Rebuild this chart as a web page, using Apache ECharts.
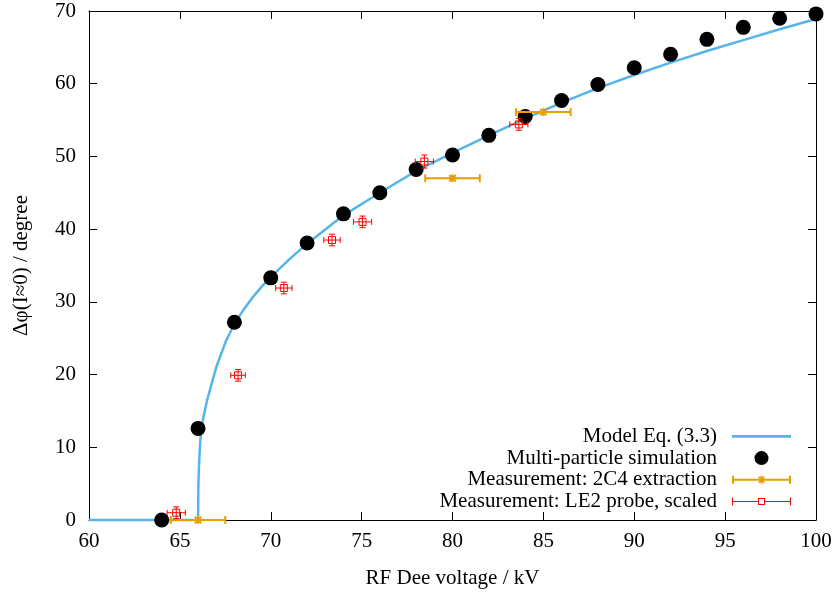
<!DOCTYPE html>
<html><head><meta charset="utf-8">
<script src="https://cdn.jsdelivr.net/npm/echarts@6/dist/echarts.min.js"></script>
<style>html,body{margin:0;padding:0;background:#fff}#c{width:837px;height:594px}</style>
</head><body><div id="c"></div>
<script>
// ---- data ----
const xTicks = [60, 65, 70, 75, 80, 85, 90, 95, 100];
const yTicks = [0, 10, 20, 30, 40, 50, 60, 70];

const modelX = [60, 66, 66.02, 66.06, 66.12, 66.2, 66.5, 67, 67.5, 68, 68.5, 69, 69.5, 70, 71, 72, 74, 76, 78, 80, 82, 84, 86, 88, 90, 92, 94, 96, 98, 100];
const modelY = [0, 0, 5, 8, 10.8, 13, 16.5, 21.0, 24.4, 27.0, 28.9, 30.6, 32.1, 33.4, 35.8, 38.0, 41.9, 45.0, 48.0, 50.5, 52.9, 55.2, 57.4, 59.4, 61.2, 62.9, 64.5, 66.0, 67.5, 68.9];

const simX = [64, 66, 68, 70, 72, 74, 76, 78, 80, 82, 84, 86, 88, 90, 92, 94, 96, 98, 100];
const simY = [0, 12.6, 27.2, 33.3, 38.1, 42.1, 45.0, 48.2, 50.2, 52.9, 55.5, 57.7, 59.9, 62.2, 64.05, 66.1, 67.75, 69.0, 69.6];

const extX = [66, 80, 85];
const extY = [0, 47.0, 56.1];
const extXErr = [1.5, 1.5, 1.5];

const probeX = [64.8, 68.2, 70.72, 73.37, 75.05, 78.45, 83.65];
const probeY = [1.0, 19.9, 31.9, 38.5, 41.0, 49.3, 54.4];
const probeXErr = [0.5, 0.4, 0.45, 0.45, 0.5, 0.5, 0.5];
const probeYErr = [0.8, 0.8, 0.8, 0.8, 0.8, 0.9, 0.8];

const names = ['Model Eq. (3.3)', 'Multi-particle simulation', 'Measurement: 2C4 extraction', 'Measurement: LE2 probe, scaled'];
const colors = {model: '#56b4e9', sim: '#000000', ext: '#e69f00', probe: '#ff0000'};

// ---- build ----
const FONT = '"Liberation Serif", "DejaVu Serif", serif';
const FS = 21;
const zip2 = (a, b) => a.map((v, i) => [v, b[i]]);

function rectPath(x, y, w, h) { return 'M' + x + ' ' + y + 'h' + w + 'v' + h + 'h' + (-w) + 'Z'; }
// legend icons in a 59 x 10 box
const modelIcon = 'path://' + rectPath(0, 0, 59, 2.6);
const extIcon = 'path://' + [
  rectPath(0, 4, 59, 2), rectPath(0, 1, 2, 8), rectPath(57, 1, 2, 8),
  rectPath(25.5, 4, 8, 2), rectPath(28.5, 1, 2, 8),
  'M26 2.5L27 1.5L33 7.5L32 8.5Z', 'M27 8.5L26 7.5L32 1.5L33 2.5Z'
].join(' ');
const probeIcon = 'path://' + [
  rectPath(0, 4.5, 26, 1), rectPath(33, 4.5, 26, 1), rectPath(0, 1, 1, 8), rectPath(58, 1, 1, 8),
  rectPath(26, 1.5, 7, 1), rectPath(26, 7.5, 7, 1), rectPath(26, 1.5, 1, 7), rectPath(32, 1.5, 1, 7),
  rectPath(29, 0, 0.01, 10)
].join(' ');

function line(x1, y1, x2, y2, style) {
  return {type: 'line', shape: {x1: x1, y1: y1, x2: x2, y2: y2}, style: style, silent: true};
}

function extRender(params, api) {
  const x = api.value(0), y = api.value(1), xe = api.value(2);
  const c = api.coord([x, y]), l = api.coord([x - xe, y]), r = api.coord([x + xe, y]);
  const st = {stroke: colors.ext, lineWidth: 2, fill: null};
  const cap = 4, m = 4;
  return {type: 'group', children: [
    line(l[0], c[1], r[0], c[1], st),
    line(l[0], c[1] - cap, l[0], c[1] + cap, st),
    line(r[0], c[1] - cap, r[0], c[1] + cap, st),
    line(c[0] - m, c[1], c[0] + m, c[1], st),
    line(c[0], c[1] - m, c[0], c[1] + m, st),
    line(c[0] - m * 0.8, c[1] - m * 0.8, c[0] + m * 0.8, c[1] + m * 0.8, st),
    line(c[0] - m * 0.8, c[1] + m * 0.8, c[0] + m * 0.8, c[1] - m * 0.8, st)
  ]};
}

function probeRender(params, api) {
  const x = api.value(0), y = api.value(1), xe = api.value(2), ye = api.value(3);
  const c = api.coord([x, y]), l = api.coord([x - xe, y]), r = api.coord([x + xe, y]);
  const t = api.coord([x, y + ye]), b = api.coord([x, y - ye]);
  const st = {stroke: colors.probe, lineWidth: 1, fill: null};
  const cap = 3, s = 3.5;
  return {type: 'group', children: [
    line(l[0], c[1], r[0], c[1], st),
    line(l[0], c[1] - cap, l[0], c[1] + cap, st),
    line(r[0], c[1] - cap, r[0], c[1] + cap, st),
    line(c[0], t[1], c[0], b[1], st),
    line(c[0] - cap, t[1], c[0] + cap, t[1], st),
    line(c[0] - cap, b[1], c[0] + cap, b[1], st),
    {type: 'rect', shape: {x: c[0] - s, y: c[1] - s, width: 2 * s, height: 2 * s}, style: st, silent: true}
  ]};
}

const axisCommon = {
  type: 'value', min: 60, max: 100, interval: 5,
  axisLine: {show: true, onZero: false, lineStyle: {color: '#000', width: 1}},
  axisTick: {show: true, inside: true, length: 8, lineStyle: {color: '#000'}},
  splitLine: {show: false}
};

const chart = echarts.init(document.getElementById('c'), null, {renderer: 'canvas'});
chart.setOption({
  animation: false,
  backgroundColor: '#fff',
  textStyle: {fontFamily: FONT},
  grid: {left: 89, right: 21, top: 11, bottom: 73, containLabel: false},
  xAxis: [
    Object.assign({}, axisCommon, {
      position: 'bottom',
      axisLabel: {show: true, color: '#000', fontSize: FS, fontFamily: FONT, margin: 11,
        formatter: v => xTicks.includes(v) ? String(v) : ''},
      name: 'RF Dee voltage / kV', nameLocation: 'middle', nameGap: 48,
      nameTextStyle: {color: '#000', fontSize: FS, fontFamily: FONT}
    }),
    Object.assign({}, axisCommon, {position: 'top', axisLabel: {show: false}})
  ],
  yAxis: [
    Object.assign({}, axisCommon, {
      min: 0, max: 70, interval: 10, position: 'left',
      axisLabel: {show: true, color: '#000', fontSize: FS, fontFamily: FONT, margin: 13,
        formatter: v => yTicks.includes(v) ? String(v) : ''},
      name: 'Δφ(I≈0) / degree', nameLocation: 'middle', nameGap: 57,
      nameTextStyle: {color: '#000', fontSize: FS, fontFamily: FONT}
    }),
    Object.assign({}, axisCommon, {min: 0, max: 70, interval: 10, position: 'right', axisLabel: {show: false}})
  ],
  legend: {
    orient: 'vertical', align: 'right', right: 46, bottom: 82, padding: 0,
    itemWidth: 59, itemHeight: 14, itemGap: 0.7,
    textStyle: {color: '#000', fontSize: FS, fontFamily: FONT, lineHeight: 20, padding: [0, 10, 0, 0]},
    data: [
      {name: names[0], icon: modelIcon, itemStyle: {color: colors.model, borderWidth: 0}},
      {name: names[1], icon: 'circle', itemStyle: {color: colors.sim, borderWidth: 0}},
      {name: names[2], icon: extIcon, itemStyle: {color: colors.ext, borderWidth: 0}},
      {name: names[3], icon: probeIcon, itemStyle: {color: colors.probe, borderWidth: 0}}
    ]
  },
  series: [
    {
      name: names[0], type: 'line', data: zip2(modelX, modelY), showSymbol: false, symbol: 'none',
      clip: false, lineStyle: {color: colors.model, width: 2.5}, itemStyle: {color: colors.model}, z: 2
    },
    {
      name: names[1], type: 'scatter', data: zip2(simX, simY), symbol: 'circle', symbolSize: 15,
      clip: false, itemStyle: {color: colors.sim, opacity: 1}, z: 3
    },
    {
      name: names[2], type: 'custom', renderItem: extRender, clip: false,
      data: extX.map((v, i) => [v, extY[i], extXErr[i]]), encode: {x: 0, y: 1},
      itemStyle: {color: colors.ext}, z: 4
    },
    {
      name: names[3], type: 'custom', renderItem: probeRender, clip: false,
      data: probeX.map((v, i) => [v, probeY[i], probeXErr[i], probeYErr[i]]), encode: {x: 0, y: 1},
      itemStyle: {color: colors.probe}, z: 5
    }
  ]
});
</script></body></html>
